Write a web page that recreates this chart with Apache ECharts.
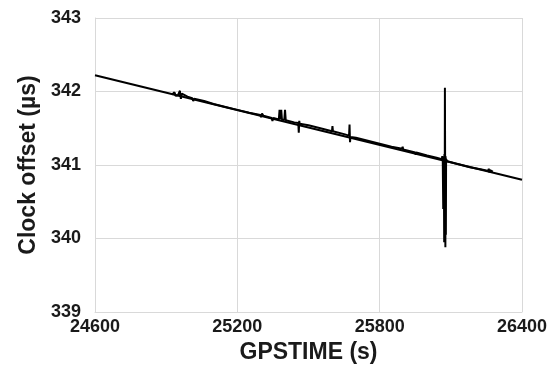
<!DOCTYPE html>
<html>
<head>
<meta charset="utf-8">
<script src="https://cdn.jsdelivr.net/npm/echarts@6/dist/echarts.min.js"></script>
<style>html,body{margin:0;padding:0;background:#fff}#c{width:555px;height:374px}</style>
</head>
<body>
<div id="c"></div>
<script>
// Trend line endpoints (GPSTIME s, clock offset µs)
var fitX = [24600, 26400];
var fitY = [342.22, 340.80];

// Measured clock offset series
var dataX = [24925, 24935, 24940, 24950, 24958, 24962, 24966, 24990, 25010, 25014, 25018, 25060, 25100, 25150, 25200, 25250,
  25297, 25300, 25304, 25310, 25345, 25348, 25352, 25375, 25378, 25381, 25385, 25388, 25398, 25401, 25404, 25440,
  25457, 25459, 25461, 25463, 25500, 25550, 25599, 25601, 25603, 25650, 25671, 25673, 25675, 25677, 25700, 25750,
  25800, 25850, 25895, 25897, 25899, 25950, 25952, 25954, 26000, 26040, 26062, 26064, 26066, 26068, 26070, 26071, 26072, 26073, 26074, 26075,
  26076, 26077, 26078, 26079, 26080, 26082, 26085, 26120, 26180, 26230, 26258, 26260, 26262, 26265, 26277];
var dataY = [341.96, 341.99, 341.94, 341.95, 342.01, 341.90, 341.97, 341.93, 341.91, 341.87, 341.90, 341.87, 341.83, 341.79, 341.75, 341.71,
  341.68, 341.65, 341.70, 341.67, 341.64, 341.60, 341.64, 341.62, 341.75, 341.62, 341.75, 341.62, 341.61, 341.75, 341.61, 341.58,
  341.57, 341.44, 341.60, 341.56, 341.54, 341.50, 341.46, 341.53, 341.46, 341.42, 341.40, 341.55, 341.31, 341.38, 341.37, 341.33,
  341.29, 341.25, 341.22, 341.25, 341.21, 341.17, 341.14, 341.17, 341.13, 341.10, 341.08, 341.12, 341.05, 340.40, 341.10, 340.70, 339.95, 341.15, 340.00, 342.05,
  341.00, 339.88, 341.12, 340.05, 341.08, 341.10, 341.05, 341.02, 340.97, 340.94, 340.92, 340.95, 340.90, 340.93, 340.91];

// Axis ticks
var xMin = 24600, xMax = 26400, xStep = 600;
var yMin = 339, yMax = 343, yStep = 1;

var chart = echarts.init(document.getElementById('c'), null, {renderer: 'canvas'});
var font = 'Liberation Sans, Arial, sans-serif';
chart.setOption({
  animation: false,
  grid: {left: 95, right: 33, top: 18, bottom: 62},
  xAxis: {
    type: 'value', min: xMin, max: xMax, interval: xStep,
    name: 'GPSTIME (s)', nameLocation: 'middle', nameGap: 28,
    nameTextStyle: {fontFamily: font, fontWeight: 'bold', fontSize: 23, color: '#1a1a1a'},
    axisLine: {show: true, lineStyle: {color: '#d9d9d9', width: 1}},
    axisTick: {show: false},
    axisLabel: {fontFamily: font, fontWeight: 'bold', fontSize: 18, color: '#1a1a1a', margin: 6,
      formatter: function (v) { return String(v); }},
    splitLine: {show: true, lineStyle: {color: '#d9d9d9', width: 1}}
  },
  yAxis: {
    type: 'value', min: yMin, max: yMax, interval: yStep,
    name: 'Clock offset (µs)', nameLocation: 'middle', nameGap: 50,
    nameTextStyle: {fontFamily: font, fontWeight: 'bold', fontSize: 23, color: '#1a1a1a'},
    axisLine: {show: true, lineStyle: {color: '#d9d9d9', width: 1}},
    axisTick: {show: false},
    axisLabel: {fontFamily: font, fontWeight: 'bold', fontSize: 18, color: '#1a1a1a', margin: 14,
      formatter: function (v) { return String(v); }},
    splitLine: {show: true, lineStyle: {color: '#d9d9d9', width: 1}}
  },
  series: [
    {
      type: 'line', showSymbol: false, silent: true,
      data: fitX.map(function (x, i) { return [x, fitY[i]]; }),
      lineStyle: {color: '#000', width: 2}
    },
    {
      type: 'line', showSymbol: false, silent: true,
      data: dataX.map(function (x, i) { return [x, dataY[i]]; }),
      lineStyle: {color: '#000', width: 2}
    }
  ]
});
</script>
</body>
</html>
